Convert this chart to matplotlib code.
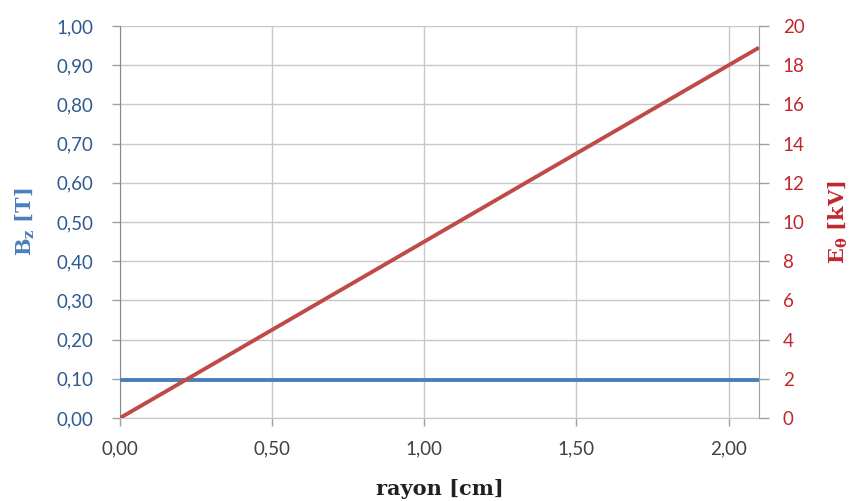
import matplotlib
matplotlib.use("Agg")
import matplotlib.pyplot as plt
import numpy as np

# values
rayon = [0.0, 2.1]             # cm
b_z = [0.096, 0.096]           # T
e_theta = [0.0, 18.9]          # kV

x_ticks = [0.0, 0.5, 1.0, 1.5, 2.0]
b_ticks = np.arange(0, 1.01, 0.1)
e_ticks = list(range(0, 21, 2))

blue = "#4a7ebb"
red = "#be4b48"
blue_txt = "#2f5a8f"
red_txt = "#c0272d"
grid_c = "#c8c8c8"

plt.rcParams["mathtext.fontset"] = "dejavuserif"


def comma(v, nd=2):
    return ("{:.%df}" % nd).format(v).replace(".", ",")


fig = plt.figure(figsize=(8.53, 5.01), dpi=100)
ax = fig.add_axes([0.1407, 0.1657, 0.7491, 0.7823])
ax2 = ax.twinx()

ax.plot(rayon, b_z, color=blue, lw=2.8, solid_capstyle="butt", zorder=3)
ax2.plot(rayon, e_theta, color=red, lw=2.8, solid_capstyle="butt", zorder=3)

ax.set_xlim(0, 2.1)
ax.set_ylim(0, 1.0)
ax2.set_ylim(0, 20)

tick_font = dict(fontsize=13.5, family="Lato")
ax.set_xticks(x_ticks)
ax.set_xticklabels([comma(v) for v in x_ticks], color="#404040", **tick_font)
ax.set_yticks(b_ticks)
ax.set_yticklabels([comma(v) for v in b_ticks], color=blue_txt, **tick_font)
ax2.set_yticks(e_ticks)
ax2.set_yticklabels([str(v) for v in e_ticks], color=red_txt, **tick_font)

ax.grid(True, color=grid_c, lw=1)
ax.set_axisbelow(True)
for a in (ax, ax2):
    for s in a.spines.values():
        s.set_visible(False)
ax.tick_params(axis="y", length=6, width=1, color="#a0a0a0", pad=13)
ax.tick_params(axis="x", length=6, width=1, color="#a0a0a0", pad=10)
ax2.tick_params(axis="y", length=7, width=1, color="#a0a0a0", pad=10)
ax.spines["left"].set_visible(True)
ax.spines["left"].set_color("#8a8a8a")
ax.spines["bottom"].set_visible(True)
ax.spines["bottom"].set_color(grid_c)
ax2.spines["right"].set_visible(True)
ax2.spines["right"].set_color("#a0a0a0")

lab_font = dict(family="DejaVu Serif", fontweight="bold", fontsize=15)
ax.set_xlabel("rayon [cm]", color="#202020", **lab_font)
ax.set_ylabel(r"B$_\mathbf{z}$ [T]", color=blue, **lab_font)
ax2.set_ylabel(r"E$_\mathbf{\theta}$ [kV]", color=red_txt, **lab_font)
ax.xaxis.set_label_coords(0.5, -0.155)
ax.yaxis.set_label_coords(-0.13, 0.5)
ax2.yaxis.set_label_coords(1.106, 0.5)

fig.savefig("out.png", dpi=100)
